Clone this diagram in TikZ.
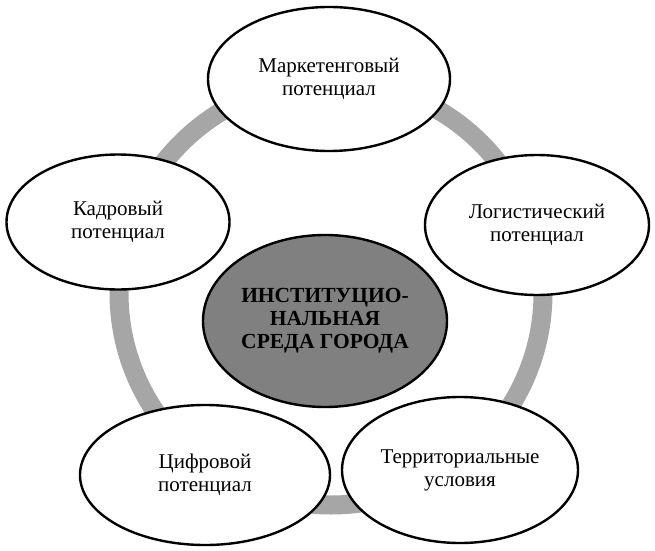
\documentclass[tikz,border=0pt]{standalone}
\usepackage{fontspec}
\setmainfont{Liberation Serif}
\usepackage{tikz}
\usetikzlibrary{shapes.geometric}
\definecolor{ringGray}{HTML}{A6A6A6}
\definecolor{coreGray}{HTML}{808080}

\begin{document}
\begin{tikzpicture}[x=1pt,y=1pt]
    \tikzstyle{potbox}=[draw=black, ellipse, line width=2.4pt, fill=white, inner sep=0pt,
      align=center, font=\fontsize{21}{23}\selectfont]

    \useasboundingbox (0,0) rectangle (655,550);

    % ring behind the ellipses
    \coordinate (hub) at (331,257);
    \draw[ringGray, line width=19pt] (hub) circle (212);

    \node[potbox, minimum width=242, minimum height=144] (mark) at (329,471) {Маркетенговый\\потенциал};
    \node[potbox, minimum width=223, minimum height=135] (kadr) at (118,328) {Кадровый\\потенциал};
    \node[potbox, minimum width=224, minimum height=140] (logi) at (537,325) {Логистический\\потенциал};
    \node[potbox, minimum width=250, minimum height=140] (cifr) at (205,75) {Цифровой\\потенциал};
    \node[potbox, minimum width=236, minimum height=146] (terr) at (460,80) {Территориальные\\условия};
    \node[potbox, fill=coreGray, minimum width=244, minimum height=172,
      font=\fontsize{21.5}{23}\selectfont\bfseries] (core) at (325,229) {ИНСТИТУЦИО-\\НАЛЬНАЯ\\СРЕДА ГОРОДА};
    \end{tikzpicture}
\end{document}
